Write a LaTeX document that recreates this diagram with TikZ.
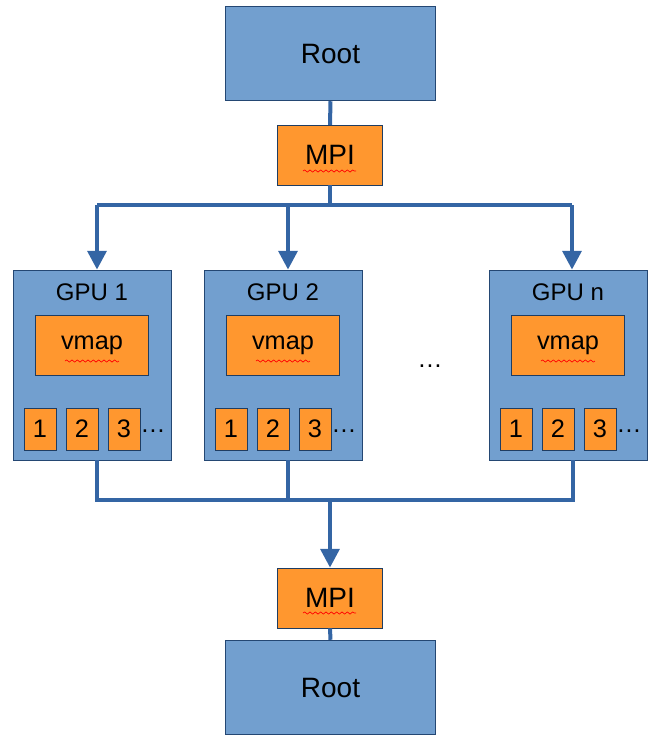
\documentclass[tikz,border=0pt]{standalone}
\usepackage{fontspec}
\setmainfont{Liberation Sans}
\usetikzlibrary{arrows.meta,decorations.pathmorphing}
\definecolor{boxfill}{HTML}{729FCF}
\definecolor{boxline}{HTML}{3465A4}
\definecolor{orng}{HTML}{FF972F}
\begin{document}
\begin{tikzpicture}[x=0.75pt,y=-0.75pt,
  bigbox/.style={draw=boxline!70!black,fill=boxfill,line width=0.6pt},
  oval/.style={draw=boxline!60!black,fill=orng,line width=0.6pt},
  numbox/.style={draw=boxline!60!black,fill=orng,line width=0.6pt,minimum width=24pt,minimum height=31.5pt,inner sep=0pt,font=\fontsize{19}{19}\selectfont},
  wire/.style={draw=boxline,line width=3pt},
  arr/.style={wire,-{Triangle[length=14pt,width=14pt]}},
  squig/.style={draw=red,line width=0.5pt,decorate,decoration={snake,amplitude=0.8pt,segment length=4pt}}]
\useasboundingbox (0,0) rectangle (661,744);
% top
\node[bigbox,minimum width=158pt,minimum height=71pt,font=\fontsize{21}{21}\selectfont] (rt) at (330.5,53.5) {Root};
\draw[wire] (rt.south) -- (330,125);
\node[oval,minimum width=79pt,minimum height=45pt,font=\fontsize{21}{21}\selectfont] (m1) at (330,155) {MPI};
\draw[squig] (303,171) -- (356,171);
\coordinate (b1) at (330,205);
\draw[wire] (m1.south) -- (b1);
\draw[wire] (97,205) -- (572,205);
% GPUs
\foreach \n/\cx/\lab in {g1/92/GPU 1,g2/283/GPU 2,gn/568/GPU n}{
  \node[bigbox,minimum width=118.5pt,minimum height=142.5pt] (\n) at (\cx,365) {};
  \node[font=\fontsize{18}{18}\selectfont] (\n t) at (\cx,292) {\lab};
  \node[oval,minimum width=85pt,minimum height=45pt,font=\fontsize{19}{19}\selectfont] (\n v) at (\cx,345) {vmap};
  \draw[squig] (\cx-27,361) -- (\cx+27,361);
  \node[numbox] (\n a) at (\cx-52,429) {1};
  \node[numbox] (\n b) at (\cx-10,429) {2};
  \node[numbox] (\n c) at (\cx+32,429) {3};
  \node[font=\fontsize{19}{19}\selectfont,anchor=west,inner sep=0pt] (\n d) at (\cx+48,431) {\dots};
}
\node[font=\fontsize{19}{19}\selectfont] (dots) at (430,366) {\dots};
\coordinate (a1) at (97,205); \coordinate (a2) at (288,205); \coordinate (an) at (572,205);
\draw[arr] (a1) -- (a1 |- g1.north);
\draw[arr] (a2) -- (a2 |- g2.north);
\draw[arr] (an) -- (an |- gn.north);
% bottom bus
\coordinate (c1) at (97,500); \coordinate (c2) at (288,500); \coordinate (cn) at (573,500); \coordinate (cm) at (330,500);
\draw[wire] (c1 |- g1.south) -- (c1) -- (cn) -- (cn |- gn.south);
\draw[wire] (c2 |- g2.south) -- (c2);
\node[oval,minimum width=79pt,minimum height=45pt,font=\fontsize{21}{21}\selectfont] (m2) at (330,598) {MPI};
\draw[squig] (303,613) -- (356,613);
\draw[arr] (cm) -- (m2.north);
\node[bigbox,minimum width=158pt,minimum height=71pt,font=\fontsize{21}{21}\selectfont] (rb) at (330.5,687.5) {Root};
\draw[wire] (m2.south) -- (rb.north);
\end{tikzpicture}
\end{document}
